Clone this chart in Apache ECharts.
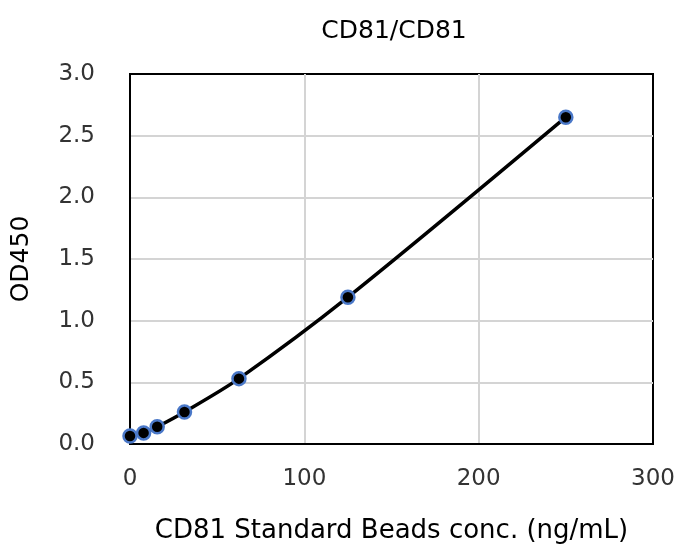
<!DOCTYPE html>
<html><head><meta charset="utf-8">
<script src="https://cdn.jsdelivr.net/npm/echarts@6/dist/echarts.min.js"></script>
<style>html,body{margin:0;padding:0;background:#fff}#c{width:677px;height:545px}</style>
</head><body><div id="c"></div>
<script>
const conc = [0, 7.8, 15.6, 31.25, 62.5, 125, 250];
const od450 = [0.065, 0.09, 0.14, 0.26, 0.53, 1.19, 2.65];
const xTicks = [0, 100, 200, 300];
const yTicks = [0, 0.5, 1.0, 1.5, 2.0, 2.5, 3.0];
const titleText = 'CD81/CD81';
const xName = 'CD81 Standard Beads conc. (ng/mL)';
const yName = 'OD450';

const font = '"DejaVu Sans", Verdana, sans-serif';
const chart = echarts.init(document.getElementById('c'));
chart.setOption({
  animation: false,
  backgroundColor: '#fff',
  title: { text: titleText, left: 389, textAlign: 'center', top: 14,
    textStyle: { fontFamily: font, fontSize: 25, fontWeight: 'normal', color: '#000' } },
  grid: { left: 130, right: 24, top: 74, bottom: 101, show: true, borderColor: '#000', borderWidth: 2,
    containLabel: false, outerBoundsMode: 'none' },
  xAxis: { type: 'value', min: xTicks[0], max: xTicks[xTicks.length-1], interval: 100,
    name: xName, nameLocation: 'middle', nameGap: 74,
    nameTextStyle: { fontFamily: font, fontSize: 26, color: '#000' },
    axisLine: { lineStyle: { color: '#000', width: 2 } }, axisTick: { show: false },
    axisLabel: { fontFamily: font, fontSize: 23, color: '#333', margin: 24 },
    splitLine: { showMinLine: false, showMaxLine: false, lineStyle: { color: '#d4d4d4', width: 2 } } },
  yAxis: { type: 'value', min: yTicks[0], max: yTicks[yTicks.length-1], interval: 0.5,
    name: yName, nameLocation: 'middle', nameGap: 96,
    nameTextStyle: { fontFamily: font, fontSize: 25, color: '#000' },
    axisLine: { lineStyle: { color: '#000', width: 2 } }, axisTick: { show: false },
    axisLabel: { fontFamily: font, fontSize: 23, color: '#333', margin: 35, formatter: v => v.toFixed(1) },
    splitLine: { showMinLine: false, showMaxLine: false, lineStyle: { color: '#d4d4d4', width: 2 } } },
  series: [{ type: 'line', smooth: 0.3, data: conc.map((x, i) => [x, od450[i]]),
    symbol: 'circle', symbolSize: 13,
    lineStyle: { color: '#000', width: 3.5 },
    itemStyle: { color: '#000', borderColor: '#4a78c8', borderWidth: 2.5 } }]
});
</script></body></html>
